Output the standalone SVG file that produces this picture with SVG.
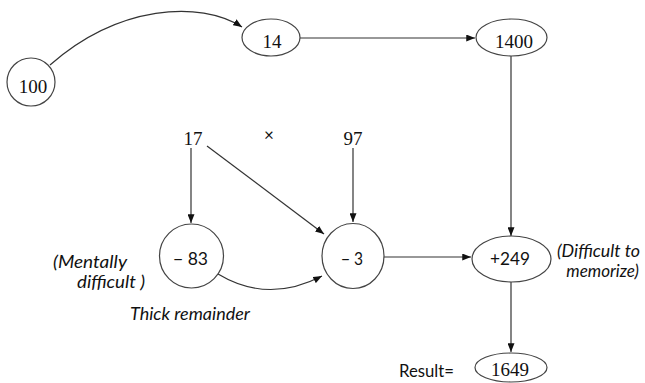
<svg xmlns="http://www.w3.org/2000/svg" width="645" height="383" viewBox="0 0 645 383">
  <defs>
    <marker id="arrow" viewBox="0 0 10 8" refX="10" refY="4" markerWidth="9" markerHeight="7" markerUnits="userSpaceOnUse" orient="auto">
      <path d="M0,0 L10,4 L0,8 Z" fill="#111"/>
    </marker>
  </defs>
  <style>
    .node { fill: #fff; stroke: #444; stroke-width: 1.2; }
    .edge { fill: none; stroke: #333; stroke-width: 1.2; marker-end: url(#arrow); }
    .num { font-family: "Liberation Serif", "DejaVu Serif", serif; font-size: 19px; fill: #111; text-anchor: middle; }
    .sans { font-family: Lato, "Liberation Sans", sans-serif; font-size: 17px; fill: #111; }
    .note { font-family: Lato, "Liberation Sans", sans-serif; font-size: 17px; font-style: italic; fill: #111; }
  </style>

  <g id="connectors">
    <path class="edge" d="M50,65 C118,5 200,0 242,27"/>
    <path class="edge" d="M300,38 L475,38"/>
    <path class="edge" d="M511,56 L511,236"/>
    <path class="edge" d="M191,148 L191,223"/>
    <path class="edge" d="M207,146 L324,234"/>
    <path class="edge" d="M353,148 L353,222"/>
    <path class="edge" d="M218,274 Q268,304 322,276"/>
    <path class="edge" d="M384,257 L471,257"/>
    <path class="edge" d="M511,282 L511,352"/>
  </g>

  <g id="n100">
    <circle class="node" cx="31" cy="82" r="24"/>
    <text class="num" x="33" y="93">100</text>
  </g>
  <g id="n14">
    <ellipse class="node" cx="271" cy="37.5" rx="29" ry="18.5"/>
    <text class="num" x="272" y="48">14</text>
  </g>
  <g id="n1400">
    <ellipse class="node" cx="511.5" cy="37.5" rx="35.5" ry="18.5"/>
    <text class="num" x="514" y="48">1400</text>
  </g>
  <g id="n17">
    <text class="num" x="193" y="145">17</text>
  </g>
  <g id="times">
    <text class="sans" x="269" y="141" font-size="14" text-anchor="middle">×</text>
  </g>
  <g id="n97">
    <text class="num" x="353" y="145">97</text>
  </g>
  <g id="nm83">
    <circle class="node" cx="191.5" cy="256" r="32"/>
    <text class="sans" x="173" y="265" textLength="35" lengthAdjust="spacingAndGlyphs">− 83</text>
  </g>
  <g id="nm3">
    <ellipse class="node" cx="353" cy="256" rx="31" ry="32.5"/>
    <text class="sans" x="341" y="265" textLength="22" lengthAdjust="spacingAndGlyphs">− 3</text>
  </g>
  <g id="n249">
    <ellipse class="node" cx="511.5" cy="259" rx="39.5" ry="23"/>
    <text class="sans" x="490" y="265" textLength="40" lengthAdjust="spacingAndGlyphs">+249</text>
  </g>
  <g id="n1649">
    <ellipse class="node" cx="511" cy="367.5" rx="36" ry="14.5"/>
    <text class="num" x="510" y="376">1649</text>
  </g>

  <g id="labels">
    <text class="note" x="53" y="268" textLength="74" lengthAdjust="spacingAndGlyphs">(Mentally</text>
    <text class="note" x="77" y="288" textLength="68" lengthAdjust="spacingAndGlyphs">difficult )</text>
    <text class="note" x="130" y="320" textLength="120" lengthAdjust="spacingAndGlyphs">Thick remainder</text>
    <text class="note" x="557" y="257" textLength="83" lengthAdjust="spacingAndGlyphs">(Difficult to</text>
    <text class="note" x="639" y="277" font-size="15" text-anchor="end">memorize)</text>
    <text class="sans" x="399" y="377" font-size="15" textLength="55" lengthAdjust="spacingAndGlyphs">Result=</text>
  </g>
</svg>
